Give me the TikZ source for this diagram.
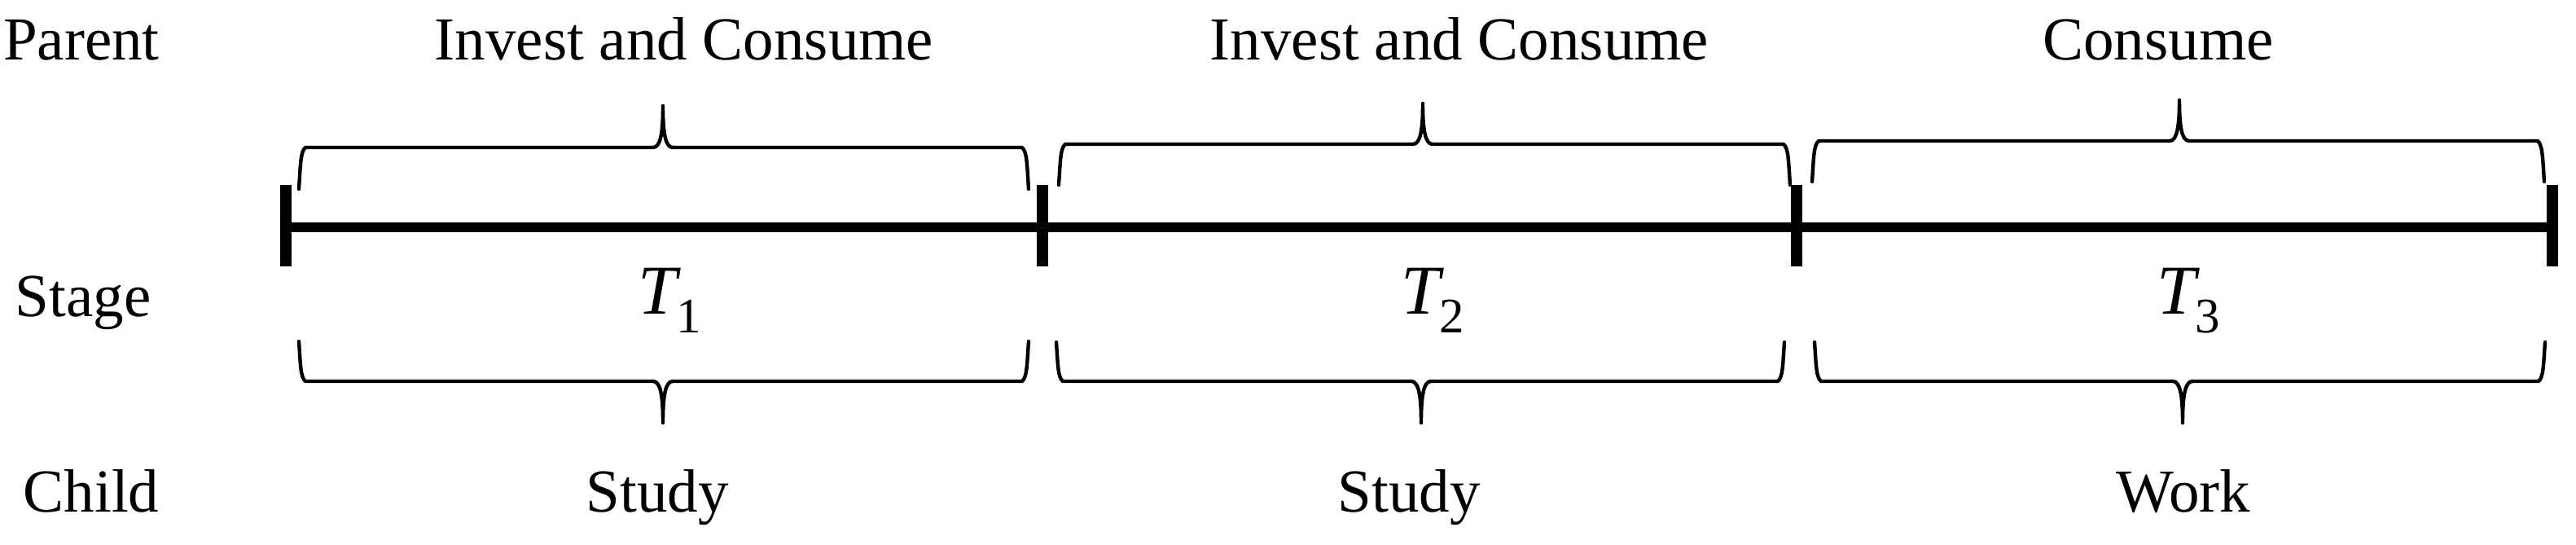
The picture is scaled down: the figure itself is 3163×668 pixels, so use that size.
\documentclass[tikz,border=0pt]{standalone}
\usepackage{fontspec}
\setmainfont{Liberation Serif}
\newcommand{\Tsub}[1]{\textit{T}\kern-1.5pt\raisebox{-5.75pt}{\fontsize{15.25}{16}\selectfont #1}}
% brace: x0, x1, xm, yend, yhoriz, ytip
\newcommand{\mybrace}[6]{%
  \draw[bracestyle] (#1,#4) .. controls (#1+2,#4-0.6*#4+0.6*#5) and (#1+2,#5+0.1*#4-0.1*#5) .. (#1+8,#5)
    -- (#3-12,#5) .. controls (#3-3,#5) and (#3,#5+0.35*#6-0.35*#5) .. (#3,#6)
    .. controls (#3,#5+0.35*#6-0.35*#5) and (#3+3,#5) .. (#3+12,#5)
    -- (#2-8,#5) .. controls (#2-2,#5+0.1*#4-0.1*#5) and (#2-2,#4-0.6*#4+0.6*#5) .. (#2,#4);}
\begin{document}
\begin{tikzpicture}[x=0.25pt,y=-0.25pt,
  lbl/.style={anchor=base,inner sep=0pt,font=\fontsize{18.75}{22}\selectfont},
  tlbl/.style={anchor=base,inner sep=0pt,font=\fontsize{21.5}{24}\selectfont},
  timeline/.style={line width=3pt},
  tickmark/.style={line width=3.5pt},
  bracestyle/.style={line width=1.1pt,line join=round,line cap=round}]
\useasboundingbox (0,0) rectangle (3163,668);
% row labels
\node[lbl] (parent) at (100,73) {Parent};
\node[lbl] (stage) at (102,388) {Stage};
\node[lbl] (child) at (112,628) {Child};
% parent activities
\node[lbl] (p1) at (840,73) {Invest and Consume};
\node[lbl] (p2) at (1792,73) {Invest and Consume};
\node[lbl] (p3) at (2650,73) {Consume};
% stages
\node[tlbl] (t1) at (822,385) {\Tsub{1}};
\node[tlbl] (t2) at (1759,385) {\Tsub{2}};
\node[tlbl] (t3) at (2687,385) {\Tsub{3}};
% child activities
\node[lbl] (c1) at (807,628) {Study};
\node[lbl] (c2) at (1730,628) {Study};
\node[lbl] (c3) at (2681,628) {Work};
% timeline
\coordinate (k0) at (351,279);
\coordinate (k1) at (1280,279);
\coordinate (k2) at (2206,279);
\coordinate (k3) at (3134,279);
\draw[timeline] (k0) -- (k3);
\foreach \k in {k0,k1,k2,k3}{
  \draw[tickmark] ([yshift=13pt]\k) -- ([yshift=-12pt]\k);
}
% upper braces
\mybrace{367}{1263}{814}{232}{181}{130}
\mybrace{1300}{2198}{1747}{227}{177}{127}
\mybrace{2225}{3124}{2676}{223}{173}{123}
% lower braces
\mybrace{367}{1263}{814}{419}{468}{519}
\mybrace{1297}{2191}{1745}{420}{468}{519}
\mybrace{2228}{3125}{2680}{420}{468}{519}
\end{tikzpicture}
\end{document}
